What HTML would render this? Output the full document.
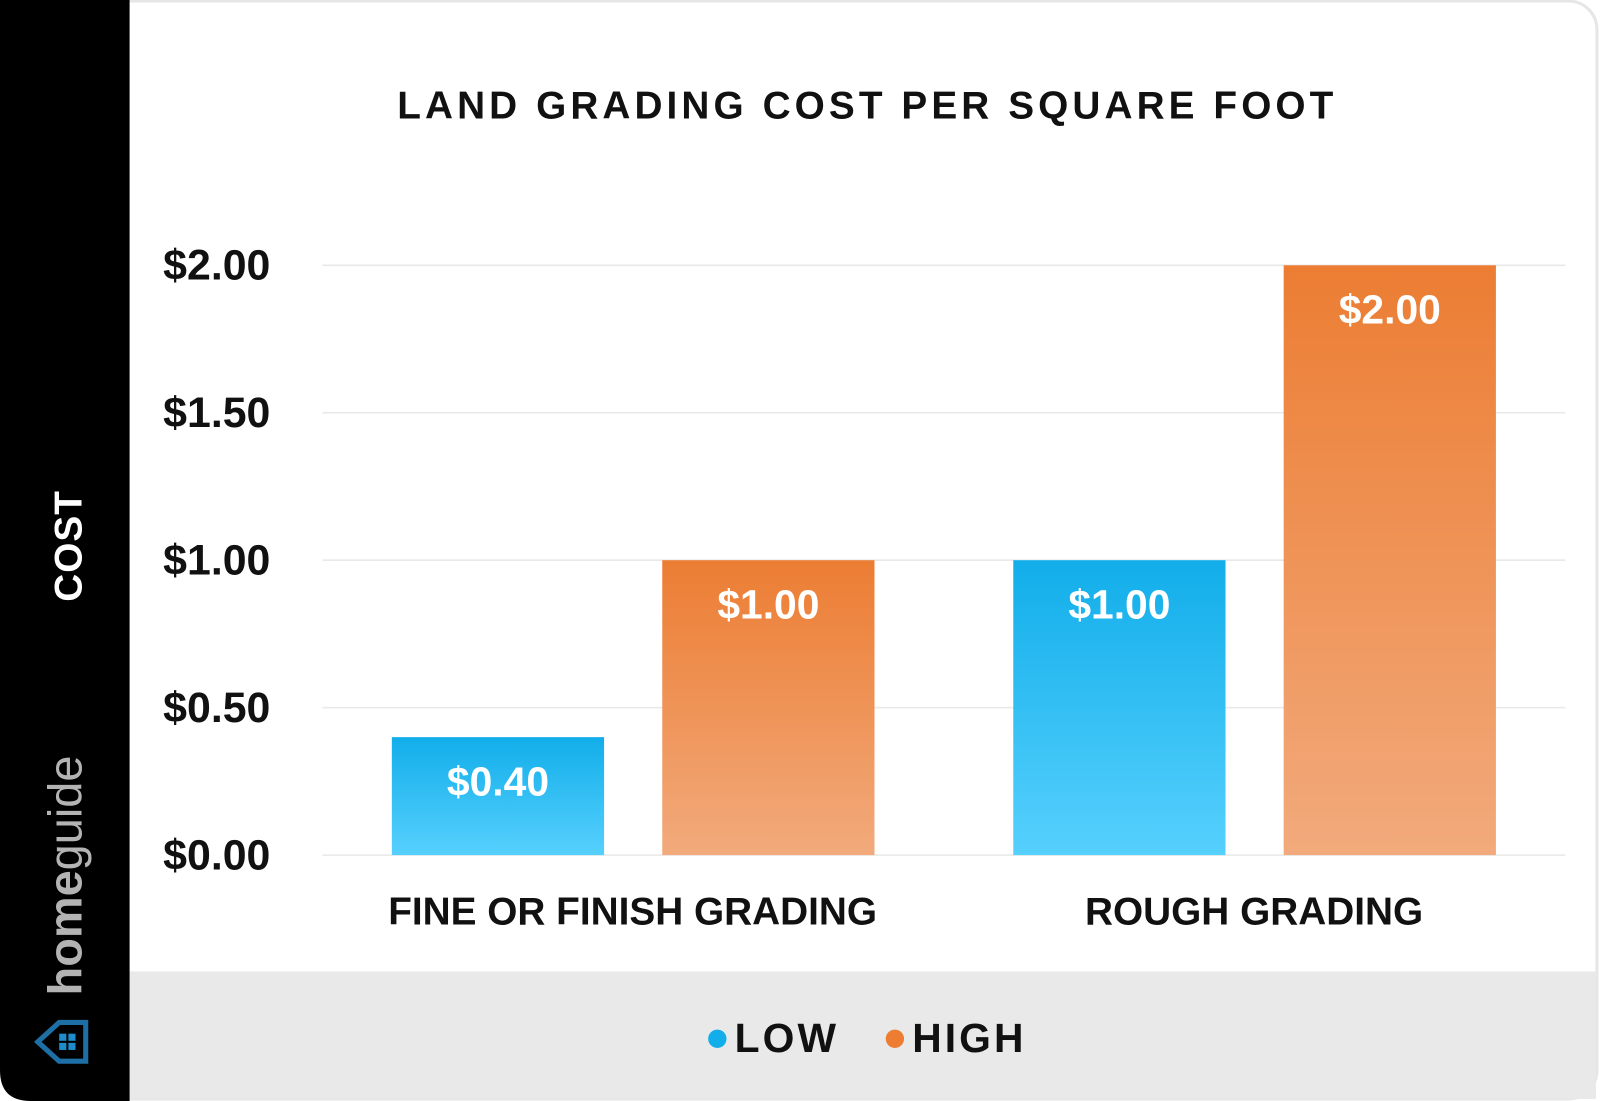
<!DOCTYPE html>
<html><head><meta charset="utf-8"><style>
html,body{margin:0;padding:0;background:#fff;}
svg{display:block;font-family:"Liberation Sans",sans-serif;}
</style></head><body>
<svg id="chart" width="1600" height="1101" viewBox="0 0 1568 1079" preserveAspectRatio="none">
<defs>
<linearGradient id="gBlue" x1="0" y1="0" x2="0" y2="1"><stop offset="0" stop-color="#12aeea"/><stop offset="1" stop-color="#56d0fd"/></linearGradient>
<linearGradient id="gOrange" x1="0" y1="0" x2="0" y2="1"><stop offset="0" stop-color="#ec7d33"/><stop offset="1" stop-color="#f2aa7c"/></linearGradient>
</defs>
<rect x="100" y="1" width="1465" height="1076" rx="28" fill="#fff" stroke="#e6e6e6" stroke-width="3"/>
<rect x="127" y="952" width="1437" height="125" fill="#e9e9e9"/>
<path d="M0 0 H127 V1079 H30 Q0 1079 0 1049 Z" fill="#000"/>
<text transform="translate(80,535) rotate(-90)" text-anchor="middle" font-size="38" font-weight="bold" fill="#fff" letter-spacing="1">COST</text>
<text transform="translate(80,858) rotate(-90)" text-anchor="middle" font-size="46" fill="#b3b3b3"><tspan font-weight="bold">home</tspan>guide</text>
<g>
<path d="M84 1002 V1040 H58 L37 1021 L58 1002 Z" fill="none" stroke="#1d6fa5" stroke-width="5"/>
<rect x="58" y="1013" width="7" height="7" fill="#1d8ccc"/><rect x="67" y="1013" width="7" height="7" fill="#1d8ccc"/>
<rect x="58" y="1022" width="7" height="7" fill="#1d8ccc"/><rect x="67" y="1022" width="7" height="7" fill="#1d8ccc"/>
</g>
<text x="850" y="116" text-anchor="middle" font-size="38" font-weight="bold" letter-spacing="4" fill="#111">LAND GRADING COST PER SQUARE FOOT</text>
<g id="grid"></g><g id="bars"></g>
<g>
<circle cx="703" cy="1018" r="9" fill="#12aeea"/>
<text x="720" y="1031" font-size="40" font-weight="bold" letter-spacing="3" fill="#111">LOW</text>
<circle cx="877" cy="1018" r="9" fill="#ec7d33"/>
<text x="894" y="1031" font-size="40" font-weight="bold" letter-spacing="3" fill="#111">HIGH</text>
</g>
</svg>
<script>
const categories=["FINE OR FINISH GRADING","ROUGH GRADING"];
const lowValues=[0.40,1.00];
const highValues=[1.00,2.00];
const tickValues=[0,0.5,1,1.5,2];
const tickLabels=["$0.00","$0.50","$1.00","$1.50","$2.00"];
const NS="http://www.w3.org/2000/svg";
const y0=838,pxPerUnit=289,x0=316,x1=1534;
const yScale=v=>y0-v*pxPerUnit;
const groupCenter=i=>620+i*609;
const barW=208;
function mk(tag,attrs,parent){const e=document.createElementNS(NS,tag);for(const k in attrs)e.setAttribute(k,attrs[k]);parent.appendChild(e);return e;}
const grid=document.getElementById('grid'),bars=document.getElementById('bars');
tickValues.forEach((v,i)=>{
  const l=mk('line',{x1:x0,x2:x1,y1:yScale(v),y2:yScale(v),stroke:'#e8e8e8','stroke-width':1.5},grid);
  
  
  const t=mk('text',{x:265,y:yScale(v)+14,'text-anchor':'end','font-size':42,'font-weight':'bold',fill:'#111'},grid);
  t.textContent=tickLabels[i];
  
  
});
categories.forEach((c,i)=>{
  const cx=groupCenter(i);
  [[lowValues[i],cx-236,'url(#gBlue)','low'],[highValues[i],cx+29,'url(#gOrange)','high']].forEach(([v,x,f,s])=>{
    const r=mk('rect',{x:x,y:yScale(v),width:barW,height:v*pxPerUnit,fill:f},bars);
    
    
    const t=mk('text',{x:x+barW/2,y:yScale(v)+57,'text-anchor':'middle','font-size':40,'font-weight':'bold',fill:'#fff'},bars);
    t.textContent='$'+v.toFixed(2);
    
    
  });
  const t=mk('text',{x:cx,y:906,'text-anchor':'middle','font-size':38,'font-weight':'bold',fill:'#111'},bars);
  t.textContent=c;
  
  
});
</script>
</body></html>
